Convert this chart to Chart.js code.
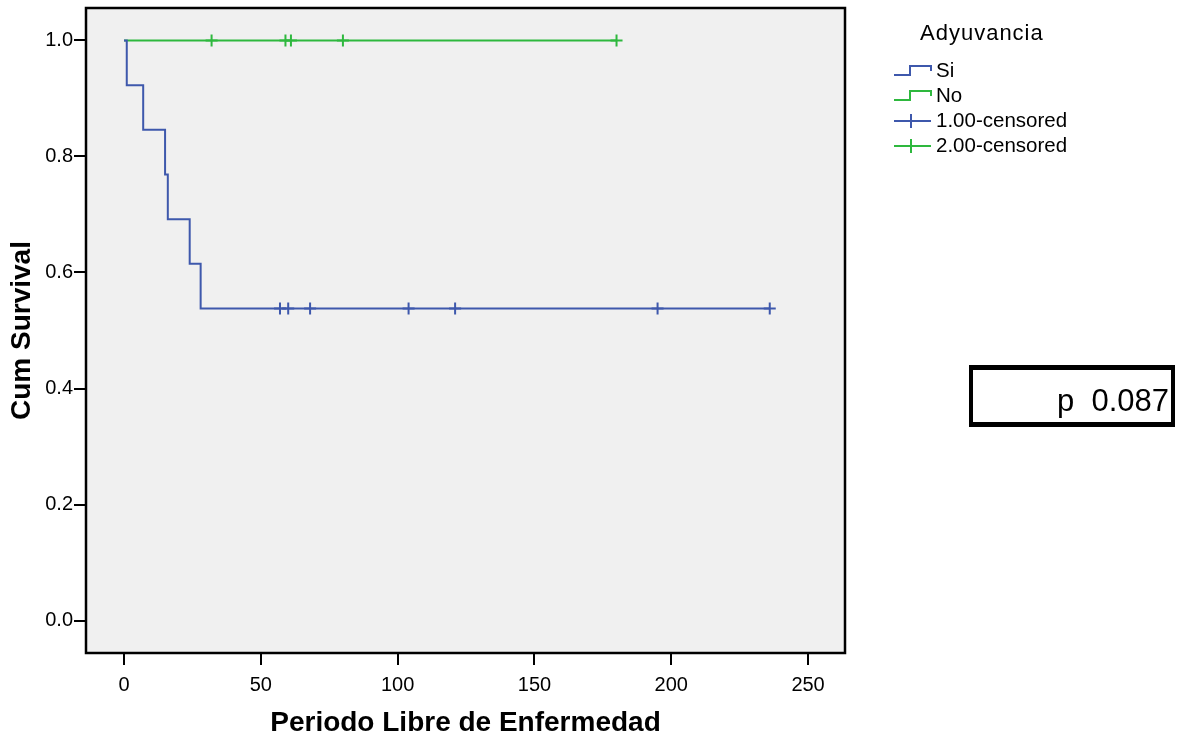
<!DOCTYPE html>
<html>
<head>
<meta charset="utf-8">
<script src="https://cdn.jsdelivr.net/npm/chart.js@4.4.1/dist/chart.umd.min.js"></script>
<style>
    body { margin: 0; background: #fff; }
    #grafico { display: block; }
</style>
</head>
<body>
<canvas id="grafico" width="1178" height="740"></canvas>
<script>
// datos (Kaplan-Meier)
const tiempoSi = [0, 1, 7, 15, 16, 24, 28, 236];
const supervSi = [1, 0.923, 0.846, 0.769, 0.692, 0.615, 0.538, 0.538];
const tiempoNo = [0, 180];
const supervNo = [1, 1];

const censSiTiempo = [57, 60, 68, 104, 121, 195, 236];
const censSiValor = [0.538, 0.538, 0.538, 0.538, 0.538, 0.538, 0.538];
const censNoTiempo = [32, 59, 61, 80, 180];
const censNoValor = [1, 1, 1, 1, 1];

const xTicks = [0, 50, 100, 150, 200, 250];
const yTicks = [0, 0.2, 0.4, 0.6, 0.8, 1.0];

const leyendaTitulo = 'Adyuvancia';
const leyendaEtiquetas = ['Si', 'No', '1.00-censored', '2.00-censored'];
const textoP = 'p  0.087';

const azul = 'rgb(62, 88, 172)';
const verde = 'rgb(46, 184, 62)';
const fuente = "'Liberation Sans', Arial, sans-serif";

function puntos(xs, ys) {
    return xs.map(function (x, i) { return { x: x, y: ys[i] }; });
}

const marcoPlugin = {
    id: 'marco',
    beforeDraw(chart) {
        const { ctx, chartArea: a } = chart;
        ctx.save();
        ctx.fillStyle = '#f0f0f0';
        ctx.fillRect(a.left, a.top, a.right - a.left, a.bottom - a.top);
        ctx.restore();
    },
    afterDraw(chart) {
        const { ctx, chartArea: a } = chart;
        ctx.save();
        // marco del area
        ctx.strokeStyle = '#000';
        ctx.lineWidth = 2.5;
        ctx.strokeRect(a.left, a.top, a.right - a.left, a.bottom - a.top);

        // leyenda
        ctx.fillStyle = '#000';
        ctx.textBaseline = 'middle';
        ctx.textAlign = 'left';
        ctx.font = '22px ' + fuente;
        ctx.letterSpacing = '1px';
        ctx.fillText(leyendaTitulo, 920, 34);
        ctx.letterSpacing = '0px';

        const colores = [azul, verde, azul, verde];
        const filas = [71, 96, 121, 146];
        ctx.font = '20.5px ' + fuente;
        leyendaEtiquetas.forEach(function (txt, i) {
            const y = filas[i];
            ctx.strokeStyle = colores[i];
            ctx.lineWidth = 2;
            ctx.beginPath();
            if (i < 2) {
                ctx.moveTo(894, y + 4);
                ctx.lineTo(910, y + 4);
                ctx.lineTo(910, y - 5);
                ctx.lineTo(931, y - 5);
                ctx.lineTo(931, y);
            } else {
                ctx.moveTo(894, y);
                ctx.lineTo(931, y);
                ctx.moveTo(911, y - 7);
                ctx.lineTo(911, y + 7);
            }
            ctx.stroke();
            ctx.fillStyle = '#000';
            ctx.fillText(txt, 936, y);
        });

        // caja del valor p
        ctx.fillStyle = '#fff';
        ctx.fillRect(969, 365, 206, 62);
        ctx.fillStyle = '#000';
        ctx.fillRect(969, 365, 206, 5);
        ctx.fillRect(969, 422, 206, 5);
        ctx.fillRect(969, 365, 4, 62);
        ctx.fillRect(1171, 365, 4, 62);
        ctx.font = '31px ' + fuente;
        ctx.textAlign = 'right';
        ctx.textBaseline = 'alphabetic';
        ctx.fillText(textoP, 1169, 411);
        ctx.restore();
    }
};

const config = {
    type: 'line',
    data: {
        datasets: [
            {
                label: 'Si',
                data: puntos(tiempoSi, supervSi),
                borderColor: azul,
                borderWidth: 2,
                stepped: 'before',
                pointRadius: 0,
                fill: false
            },
            {
                label: 'No',
                data: puntos(tiempoNo, supervNo),
                borderColor: verde,
                borderWidth: 2,
                stepped: 'before',
                pointRadius: 0,
                fill: false
            },
            {
                label: '1.00-censored',
                data: puntos(censSiTiempo, censSiValor),
                showLine: false,
                pointStyle: 'cross',
                pointRadius: 6,
                borderColor: azul,
                borderWidth: 2
            },
            {
                label: '2.00-censored',
                data: puntos(censNoTiempo, censNoValor),
                showLine: false,
                pointStyle: 'cross',
                pointRadius: 6,
                borderColor: verde,
                borderWidth: 2
            }
        ]
    },
    options: {
        responsive: false,
        animation: false,
        layout: { padding: { top: 6, right: 333, left: 0, bottom: 0 } },
        plugins: {
            legend: { display: false },
            tooltip: { enabled: false }
        },
        scales: {
            x: {
                type: 'linear',
                min: -13.9,
                max: 263.5,
                afterFit: function (scale) {
                    scale.height = 87;
                    scale.paddingLeft = 0;
                    scale.paddingRight = 0;
                },
                afterBuildTicks: function (scale) {
                    scale.ticks = xTicks.map(function (v) { return { value: v }; });
                },
                border: { display: false },
                grid: {
                    drawOnChartArea: false,
                    drawTicks: true,
                    tickLength: 12,
                    color: '#000',
                    lineWidth: 2
                },
                ticks: {
                    color: '#000',
                    padding: 8,
                    maxRotation: 0,
                    font: { family: fuente, size: 20 },
                    callback: function (v) { return String(v); }
                },
                title: {
                    display: true,
                    text: 'Periodo Libre de Enfermedad',
                    color: '#000',
                    font: { family: fuente, size: 28, weight: 'bold' },
                    padding: { top: 0, bottom: 0 }
                }
            },
            y: {
                type: 'linear',
                min: -0.056,
                max: 1.056,
                afterFit: function (scale) {
                    scale.width = 86;
                    scale.paddingTop = 0;
                    scale.paddingBottom = 0;
                },
                afterBuildTicks: function (scale) {
                    scale.ticks = yTicks.map(function (v) { return { value: v }; });
                },
                border: { display: false },
                grid: {
                    drawOnChartArea: false,
                    drawTicks: true,
                    tickLength: 12,
                    color: '#000',
                    lineWidth: 2
                },
                ticks: {
                    color: '#000',
                    padding: 1,
                    font: { family: fuente, size: 20 },
                    callback: function (v) { return Number(v).toFixed(1); }
                },
                title: {
                    display: true,
                    text: 'Cum Survival',
                    color: '#000',
                    font: { family: fuente, size: 28, weight: 'bold' },
                    padding: { top: 5, bottom: 0 }
                }
            }
        }
    },
    plugins: [marcoPlugin]
};

new Chart(document.getElementById('grafico'), config);
</script>
</body>
</html>
